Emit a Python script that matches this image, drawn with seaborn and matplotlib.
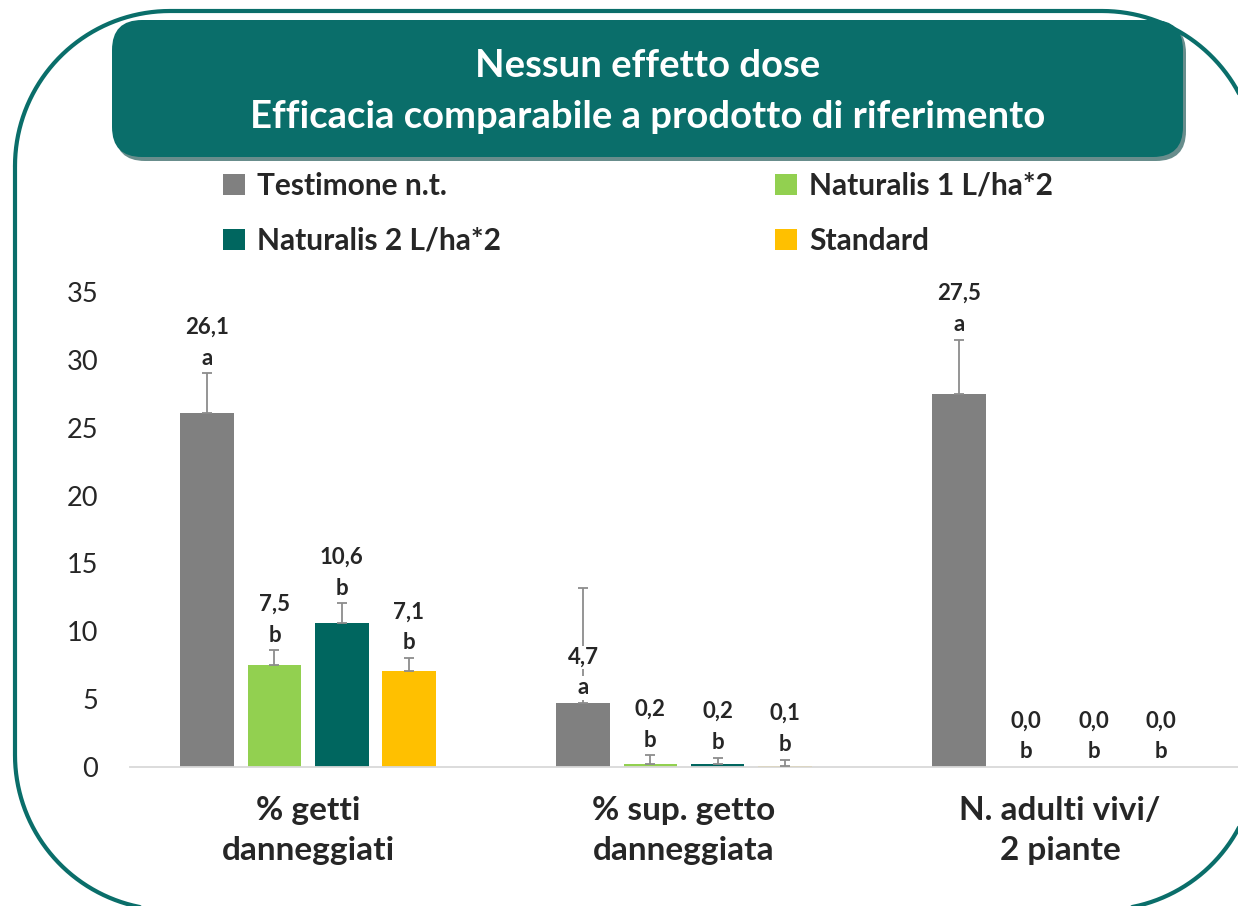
import numpy as np
import pandas as pd
import matplotlib.pyplot as plt
import seaborn as sns
from matplotlib.patches import FancyBboxPatch

# --- data ---
categories = ["% getti\ndanneggiati", "% sup. getto\ndanneggiata", "N. adulti vivi/\n2 piante"]
treatments = ["Testimone n.t.", "Naturalis 1 L/ha*2", "Naturalis 2 L/ha*2", "Standard"]
colors = ["#808080", "#92D050", "#00665F", "#FFC000"]

testimone = [26.1, 4.7, 27.5]
naturalis_1 = [7.5, 0.2, 0.0]
naturalis_2 = [10.6, 0.2, 0.0]
standard = [7.1, 0.1, 0.0]

err_testimone = [2.9, 8.5, 4.0]
err_naturalis_1 = [1.1, 0.65, 0.0]
err_naturalis_2 = [1.45, 0.5, 0.0]
err_standard = [0.95, 0.45, 0.0]

letters_testimone = ["a", "a", "a"]
letters_naturalis_1 = ["b", "b", "b"]
letters_naturalis_2 = ["b", "b", "b"]
letters_standard = ["b", "b", "b"]

title_lines = ["Nessun effetto dose", "Efficacia comparabile a prodotto di riferimento"]
y_ticks = [0, 5, 10, 15, 20, 25, 30, 35]

TEAL = "#0A6E6A"


def build_frame():
    means = [testimone, naturalis_1, naturalis_2, standard]
    errs = [err_testimone, err_naturalis_1, err_naturalis_2, err_standard]
    letters = [letters_testimone, letters_naturalis_1, letters_naturalis_2, letters_standard]
    rows = []
    for t, m, e, l in zip(treatments, means, errs, letters):
        for c, mv, ev, lv in zip(categories, m, e, l):
            rows.append({"categoria": c, "trattamento": t, "valore": mv, "err": ev, "lettera": lv})
    return pd.DataFrame(rows)


def rounded_outline(x0, y0, x1, y1, r, n=40):
    # closed outline of a rounded rectangle, y pointing down
    pts = []
    corners = [((x0 + r, y0 + r), 180, 270), ((x1 - r, y0 + r), 270, 360),
               ((x1 - r, y1 - r), 0, 90), ((x0 + r, y1 - r), 90, 180)]
    for (cx, cy), a0, a1 in corners:
        t = np.radians(np.linspace(a0, a1, n))
        pts.extend(zip(cx + r * np.cos(t), cy + r * np.sin(t)))
    pts.append(pts[0])
    return np.array(pts)


def main():
    df = build_frame()

    sns.set_style("white")
    plt.rcParams["font.family"] = ["Lato", "DejaVu Sans"]

    W, H = 1238, 906
    fig = plt.figure(figsize=(W / 100, H / 100), dpi=100)

    # background layer in pixel units: frame + title banner
    bg = fig.add_axes([0, 0, 1, 1], zorder=0)
    bg.set_xlim(0, W)
    bg.set_ylim(H, 0)
    bg.axis("off")
    frame = rounded_outline(15, 11, 1257, 910, 155)
    bg.plot(frame[:, 0], frame[:, 1], color=TEAL, linewidth=3, solid_joinstyle="round")
    # banner shadow then banner
    bg.add_patch(FancyBboxPatch((115, 23), 1071, 138, boxstyle="round,pad=0,rounding_size=30",
                                facecolor="#04423F", edgecolor="none", alpha=0.6))
    bg.add_patch(FancyBboxPatch((112, 20), 1071, 137, boxstyle="round,pad=0,rounding_size=30",
                                facecolor=TEAL, edgecolor="none"))
    bg.text(648, 66, title_lines[0], color="white", fontsize=27.5, fontweight="bold",
            ha="center", va="center")
    bg.text(648, 117, title_lines[1], color="white", fontsize=27.5, fontweight="bold",
            ha="center", va="center")

    # main chart
    ax = fig.add_axes([130 / W, (H - 767) / H, (W - 130) / W, 475 / H], zorder=1)
    ax.patch.set_alpha(0)
    sns.barplot(data=df, x="categoria", y="valore", hue="trattamento",
                order=categories, hue_order=treatments, palette=colors,
                saturation=1, width=0.715, gap=0.2, errorbar=None,
                linewidth=0, ax=ax)

    ax.set_ylim(0, 35)
    ax.set_yticks(y_ticks)
    ax.set_xlabel("")
    ax.set_ylabel("")
    for s in ["top", "right", "left"]:
        ax.spines[s].set_visible(False)
    ax.spines["bottom"].set_color("#D9D9D9")
    ax.spines["bottom"].set_linewidth(1.3)
    ax.tick_params(axis="y", length=0, pad=23, labelsize=19.5)
    ax.tick_params(axis="x", length=0, pad=21)
    for lab in ax.get_xticklabels():
        lab.set_fontsize(24)
        lab.set_fontweight("bold")
        lab.set_linespacing(1.45)

    # error bars (upward only) and value / letter labels
    bar_conts = list(ax.containers)
    for i, cont in enumerate(bar_conts):
        bars = sorted(cont.patches, key=lambda p: p.get_x())
        sub = df[df["trattamento"] == treatments[i]].reset_index(drop=True)
        for bar, (_, row) in zip(bars, sub.iterrows()):
            x = bar.get_x() + bar.get_width() / 2
            top = bar.get_height()
            if row["err"] > 0:
                ax.errorbar(x, top, yerr=[[0], [row["err"]]], fmt="none",
                            ecolor="#8C8C8C", elinewidth=1.3, capsize=3.5, capthick=1.3, zorder=3)
            # labels sit above the error bar, unless it is very long
            anchor = top + row["err"] if row["err"] < 5 else top
            val = f"{row['valore']:.1f}".replace(".", ",")
            box = dict(facecolor="white", edgecolor="none", pad=1)
            ax.annotate(row["lettera"], xy=(x, anchor), xytext=(0, 11), textcoords="offset points",
                        ha="center", va="center", fontsize=16, fontweight="bold", bbox=box, zorder=5)
            ax.annotate(val, xy=(x, anchor), xytext=(0, 33), textcoords="offset points",
                        ha="center", va="center", fontsize=16, fontweight="bold", bbox=box, zorder=5)

    handles, labels = ax.get_legend_handles_labels()
    ax.get_legend().remove()
    idx = [0, 2, 1, 3]
    fig.legend([handles[k] for k in idx], [labels[k] for k in idx], ncol=2,
               loc="upper left", bbox_to_anchor=(223 / W, 1 - 172 / H),
               frameon=False, prop={"weight": "bold", "size": 21.5},
               handlelength=0.74, handleheight=0.72, handletextpad=0.4,
               columnspacing=9.17, labelspacing=0.9, borderpad=0, borderaxespad=0)

    fig.savefig("out.png", dpi=100)
    print("saved out.png")


if __name__ == "__main__":
    main()
